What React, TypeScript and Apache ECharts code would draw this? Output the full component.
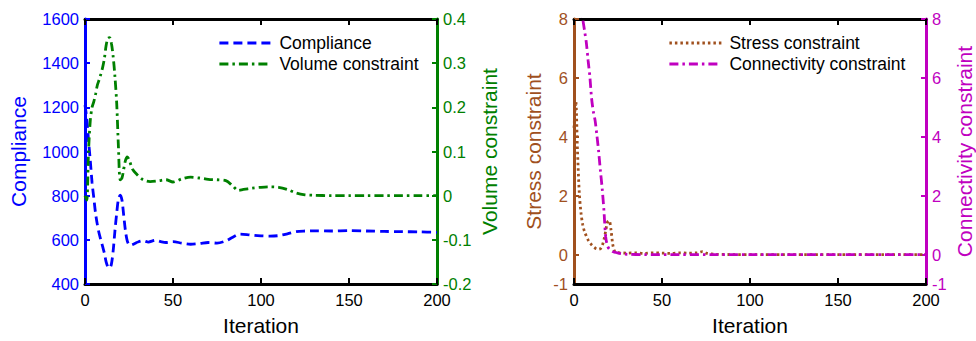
import React, { useEffect, useRef } from 'react';
import * as echarts from 'echarts';

// ---------- data ----------
const iterationTicks = [0, 50, 100, 150, 200];

const complianceIter = [0,1,2,3,4,5,6,7,8,9,10,11,12,13,14,15,16,17,18,19,20,21,22,23,24,25,26,28,30,33,36,40,43,46,50,55,60,65,70,75,80,84,88,92,96,100,105,110,115,120,125,130,140,150,160,170,180,190,200];
const complianceVal = [1210,1150,1050,960,860,790,720,670,630,600,570,540,500,478,472,490,550,640,720,785,802,780,710,640,595,578,576,582,590,596,590,598,592,588,592,585,580,583,588,585,595,612,626,624,620,618,617,619,627,637,640,641,640,642,640,638,637,636,634];

const volumeIter = [0,1,2,3,4,5,6,7,8,9,10,11,12,13,14,15,16,17,18,19,20,21,22,23,24,25,27,29,33,37,42,46,50,55,60,65,70,75,80,84,87,90,95,100,105,110,115,120,125,130,140,150,160,170,180,190,200];
const volumeVal = [0.0,-0.01,0.1,0.17,0.2,0.213,0.23,0.25,0.262,0.275,0.29,0.31,0.34,0.356,0.358,0.345,0.315,0.27,0.21,0.11,0.036,0.04,0.06,0.08,0.088,0.082,0.06,0.05,0.036,0.032,0.034,0.036,0.031,0.038,0.042,0.04,0.037,0.036,0.034,0.022,0.012,0.014,0.017,0.019,0.02,0.019,0.014,0.006,0.002,0.001,0,0,0,0,0,0,0];

const stressIter = [0,1,2,3,4,5,6,8,10,12,13,14,15,16,17,18,19,20,21,22,23,24,26,30,35,40,45,50,55,60,65,70,73,75,78,80,90,100,120,150,200];
const stressVal = [4.3,5.2,3.5,2.1,1.4,1.0,0.78,0.5,0.33,0.22,0.19,0.18,0.2,0.3,0.5,0.8,1.1,1.15,0.85,0.35,0.12,0.07,0.06,0.05,0.06,0.04,0.06,0.05,0.04,0.06,0.05,0.06,0.1,0.05,0.02,0.01,0,0,0,0,0];

const connIter = [4,5,6,7,8,9,10,11,12,13,14,15,16,17,18,19,20,22,24,27,30,40,60,80,100,150,200];
const connVal = [8.6,8.0,7.6,7.2,6.6,6.05,5.3,4.85,4.55,4.05,3.5,2.85,2.25,1.5,0.6,0.3,0.19,0.1,0.07,0.03,0.01,0,0,0,0,0,0];

const complianceTicks = [400, 1600, 200];
const volumeTicks = [-0.2, 0.4, 0.1];
const constraintLabels = [-1, 0, 2, 4, 6, 8];
const constraintTicks = [0, 2, 4, 6, 8];

// ---------- styles ----------
const FONT = 'Liberation Sans, Arial, Helvetica, sans-serif';
const BLUE = '#0000ff';
const GREEN = '#008000';
const BROWN = '#a0501e';
const MAGENTA = '#c000c0';
const LW = 2.8;

const pairs = (xs: number[], ys: number[]) => xs.map((x, i) => [x, ys[i]]);
const plain = (v: number) => String(Math.round(v * 1000) / 1000);

const xBottom = (grid: number) => ({
  type: 'value', gridIndex: grid, position: 'bottom',
  min: iterationTicks[0], max: iterationTicks[iterationTicks.length - 1], interval: 50,
  name: 'Iteration', nameLocation: 'middle', nameGap: 31,
  nameTextStyle: { color: '#000', fontSize: 21, fontFamily: FONT },
  axisLine: { show: true, onZero: false, lineStyle: { color: '#000', width: 3 } },
  axisTick: { show: true, inside: true, length: 6, lineStyle: { color: '#000', width: 2 } },
  axisLabel: { color: '#000', fontSize: 16.5, fontFamily: FONT, margin: 7 },
  splitLine: { show: false },
});
const xTop = (grid: number) => ({
  type: 'value', gridIndex: grid, position: 'top',
  min: iterationTicks[0], max: iterationTicks[iterationTicks.length - 1], interval: 50,
  axisLine: { show: true, onZero: false, lineStyle: { color: '#000', width: 3 } },
  axisTick: { show: true, inside: true, length: 6, lineStyle: { color: '#000', width: 2 } },
  axisLabel: { show: false },
  splitLine: { show: false },
});

const yAxisBase = (grid: number, pos: string, color: string, name: string, gap: number) => ({
  type: 'value', gridIndex: grid, position: pos,
  name, nameLocation: 'middle', nameGap: gap, nameRotate: 90,
  nameTextStyle: { color, fontSize: 21, fontFamily: FONT },
  axisLine: { show: true, onZero: false, lineStyle: { color, width: 3 } },
  axisTick: { show: true, inside: true, length: 5, lineStyle: { color, width: 2 } },
  axisLabel: { color, fontSize: 16.5, fontFamily: FONT, margin: 6, formatter: plain },
  splitLine: { show: false },
});

const legendBase = {
  orient: 'vertical', top: 34, padding: 0,
  itemWidth: 52, itemHeight: 14, itemGap: 3, selectedMode: false,
  lineStyle: { width: LW },
  itemStyle: { opacity: 0 },
  textStyle: { color: '#000', fontSize: 17.5, fontFamily: FONT, padding: [0, 0, 0, 3] },
};

const option: any = {
  animation: false,
  backgroundColor: '#ffffff',
  grid: [
    { left: 85, right: 539, top: 19, bottom: 57 },
    { left: 574, right: 49, top: 19, bottom: 56 },
  ],
  xAxis: [xBottom(0), xTop(0), xBottom(1), xTop(1)],
  yAxis: [
    { ...yAxisBase(0, 'left', BLUE, 'Compliance', 56), min: complianceTicks[0], max: complianceTicks[1], interval: complianceTicks[2] },
    { ...yAxisBase(0, 'right', GREEN, 'Volume constraint', 42), min: volumeTicks[0], max: volumeTicks[1], interval: volumeTicks[2] },
    {
      ...yAxisBase(1, 'left', BROWN, 'Stress constraint', 30), min: -1, max: 8,
      axisLabel: { color: BROWN, fontSize: 16.5, fontFamily: FONT, margin: 6, customValues: constraintLabels },
      axisTick: { show: true, inside: true, length: 5, lineStyle: { color: BROWN, width: 2 }, customValues: constraintTicks },
    },
    {
      ...yAxisBase(1, 'right', MAGENTA, 'Connectivity constraint', 28), min: -1, max: 8,
      axisLabel: { color: MAGENTA, fontSize: 16.5, fontFamily: FONT, margin: 6, customValues: constraintLabels },
      axisTick: { show: true, inside: true, length: 5, lineStyle: { color: MAGENTA, width: 2 }, customValues: constraintTicks },
    },
  ],
  legend: [
    { ...legendBase, data: ['Compliance', 'Volume constraint'], left: 218 },
    { ...legendBase, data: ['Stress constraint', 'Connectivity constraint'], left: 668 },
  ],
  series: [
    {
      name: 'Compliance', type: 'line', xAxisIndex: 0, yAxisIndex: 0, symbol: 'none', smooth: 0.3,
      data: pairs(complianceIter, complianceVal),
      lineStyle: { color: BLUE, width: LW, type: [9, 5] }, itemStyle: { color: BLUE },
    },
    {
      name: 'Volume constraint', type: 'line', xAxisIndex: 0, yAxisIndex: 1, symbol: 'none', smooth: 0.3,
      data: pairs(volumeIter, volumeVal),
      lineStyle: { color: GREEN, width: LW, type: [9, 4, 2.5, 4] }, itemStyle: { color: GREEN },
    },
    {
      name: 'Stress constraint', type: 'line', xAxisIndex: 2, yAxisIndex: 2, symbol: 'none', smooth: 0.3,
      data: pairs(stressIter, stressVal),
      lineStyle: { color: BROWN, width: LW, type: [2.5, 3] }, itemStyle: { color: BROWN },
    },
    {
      name: 'Connectivity constraint', type: 'line', xAxisIndex: 2, yAxisIndex: 3, symbol: 'none', smooth: 0.3,
      data: pairs(connIter, connVal),
      lineStyle: { color: MAGENTA, width: LW, type: [9, 4, 2.5, 4] }, itemStyle: { color: MAGENTA },
    },
  ],
};

export default function App() {
  const ref = useRef<HTMLDivElement>(null);
  useEffect(() => {
    const chart = echarts.init(ref.current as HTMLDivElement, null, { renderer: 'svg' });
    chart.setOption(option);
    return () => chart.dispose();
  }, []);
  return (
    <div
      ref={ref}
      style={{ position: 'absolute', left: 0, top: 0, width: 976, height: 341, background: '#fff' }}
    />
  );
}
